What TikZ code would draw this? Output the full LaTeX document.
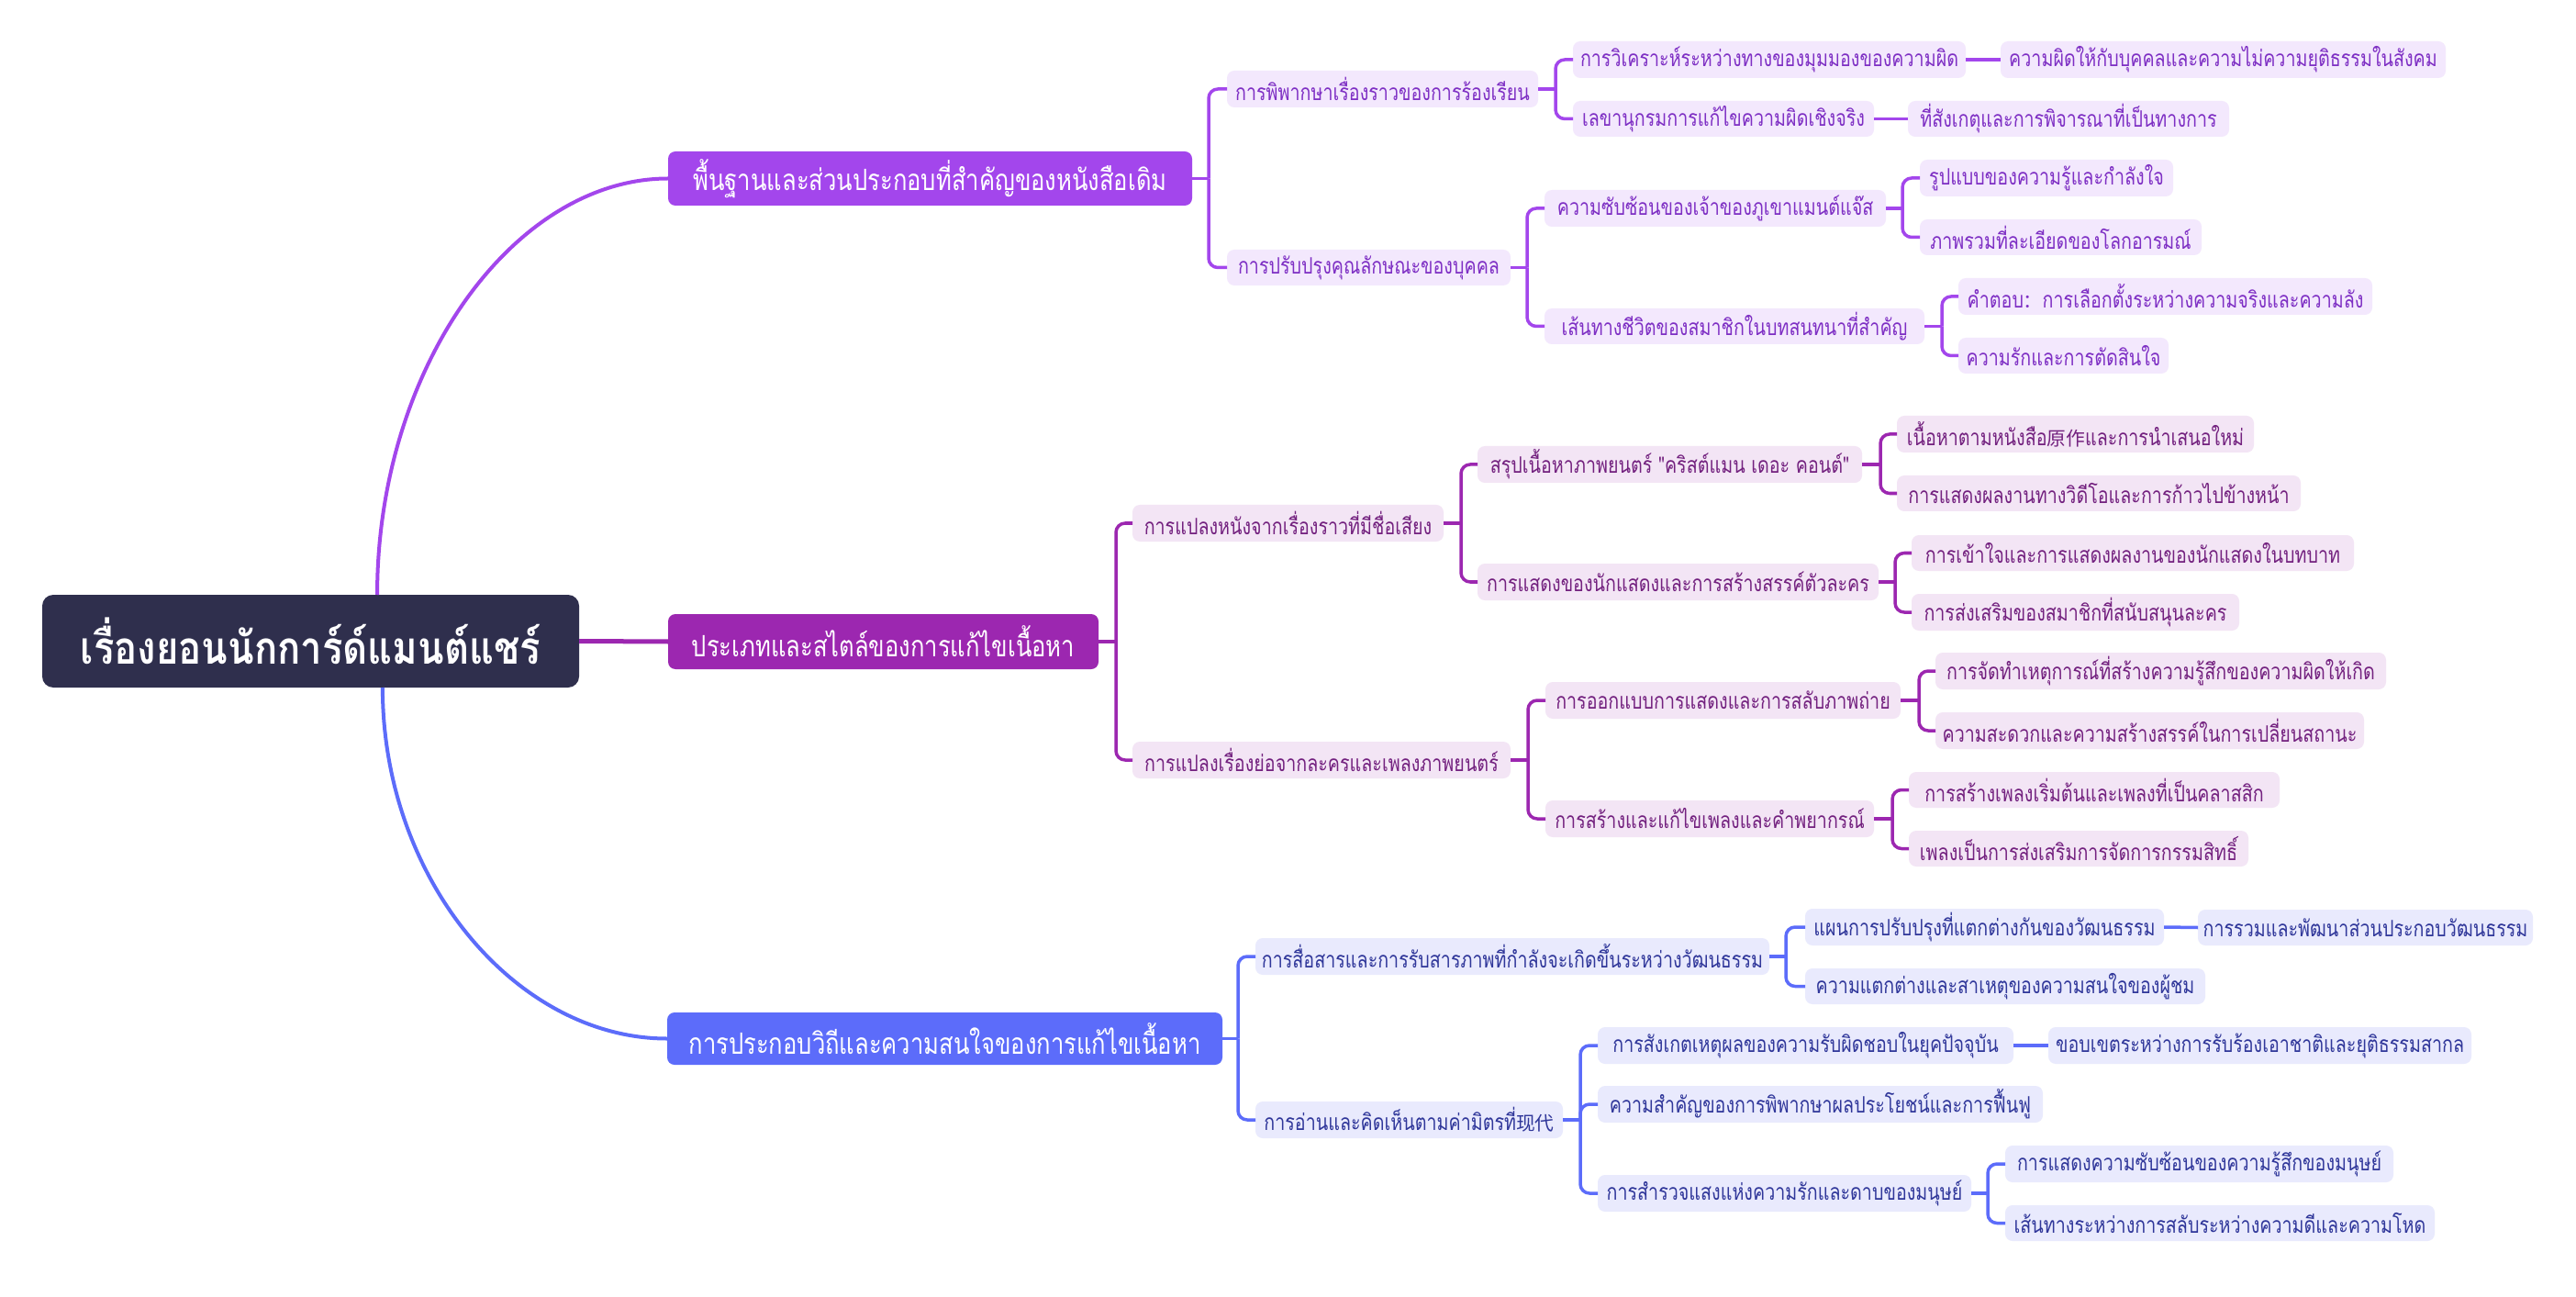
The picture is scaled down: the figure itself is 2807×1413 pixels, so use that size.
\documentclass[tikz,border=0pt]{standalone}
\usepackage{fontspec}
\newfontfamily\thaifont[Script=Thai, FakeStretch=0.8]{Loma}
\newfontfamily\thairoot[Script=Thai, FakeStretch=0.85]{Loma}
\newfontfamily\cjkfam{Noto Sans CJK SC}
\newcommand\cjk{\cjkfam\fontsize{5.9}{7}\selectfont}
\usetikzlibrary{calc}
\definecolor{rootc}{HTML}{2F2F4D}
\definecolor{pa}{HTML}{A346EC}
\definecolor{pafill}{HTML}{F3E8FD}
\definecolor{patxt}{HTML}{7E2FC4}
\definecolor{pb}{HTML}{9C27B0}
\definecolor{pbfill}{HTML}{F3E5F5}
\definecolor{pbtxt}{HTML}{73217F}
\definecolor{pc}{HTML}{5C6CFA}
\definecolor{pcfill}{HTML}{E9EAFD}
\definecolor{pctxt}{HTML}{30379A}
\tikzset{
  base/.style={inner sep=0pt, outer sep=0pt, align=center},
  rootbox/.style={base, fill=rootc, rounded corners=0.12cm, text=white, font=\thairoot\bfseries\fontsize{14}{16}\selectfont},
  mainbox/.style={base, rounded corners=0.08cm, text=white, font=\thaifont\fontsize{9.1}{11}\selectfont},
  subbox/.style={base, rounded corners=0.08cm, font=\thaifont\fontsize{7}{8}\selectfont},
  abox/.style={subbox, fill=pafill, text=patxt},
  bbox/.style={subbox, fill=pbfill, text=pbtxt},
  cbox/.style={subbox, fill=pcfill, text=pctxt},
  conn/.style={line width=0.035cm},
  rootconn/.style={line width=0.04cm},
}
\newcommand\nd[7]{\node[#2, anchor=west, minimum width={(#5-#3)*0.01cm}, minimum height={(#6-#4)*0.01cm}] (#1) at ({#3},{(#4+#6)/2}) {#7};}
\newcommand\fork[3]{%
  \coordinate (#1x) at ({#2},0);
  \coordinate (#1b) at (#1x |- #1.east);
  \draw[conn] (#1.east) -- (#1b);
  \foreach \c in {#3} {\draw[conn, rounded corners=0.1cm] (#1b) |- (\c.west);}
}
\begin{document}
\begin{tikzpicture}[x=0.01cm, y=-0.01cm]
\fill[white] (0,0) rectangle (2807,1413);
\useasboundingbox (0,0) rectangle (2807,1413);

% root and main branches
\nd{root}{rootbox}{46}{648}{631}{749}{เรื่องยอนนักการ์ด์แมนต์แชร์}
\nd{B1}{mainbox, fill=pa}{728}{165}{1299}{224}{พื้นฐานและส่วนประกอบที่สำคัญของหนังสือเดิม}
\nd{B2}{mainbox, fill=pb}{728}{669}{1197}{729}{ประเภทและสไตล์ของการแก้ไขเนื้อหา}
\nd{B3}{mainbox, fill=pc}{727}{1103}{1332}{1160}{การประกอบวิถีและความสนใจของการแก้ไขเนื้อหา}

\coordinate (rt) at ($(root.north west)!0.624!(root.north east)$);
\coordinate (rb) at ($(root.south west)!0.634!(root.south east)$);
\draw[rootconn, pa] (rt) .. controls ($(rt)+(0,-248)$) and ($(B1.west)+(-168,0)$) .. (B1.west);
\draw[rootconn, pc] (rb) .. controls ($(rb)+(0,210)$) and ($(B3.west)+(-164,0)$) .. (B3.west);
\draw[rootconn, pb, line width=0.05cm] (root.east) -- (B2.west);

% branch 1
\nd{a1}{abox}{1337}{77}{1676}{117}{การพิพากษาเรื่องราวของการร้องเรียน}
\nd{a2}{abox}{1337}{272}{1646}{311}{การปรับปรุงคุณลักษณะของบุคคล}
\nd{a11}{abox}{1714}{45}{2142}{85}{การวิเคราะห์ระหว่างทางของมุมมองของความผิด}
\nd{a12}{abox}{1714}{110}{2042}{149}{เลขานุกรมการแก้ไขความผิดเชิงจริง}
\nd{a111}{abox}{2180}{45}{2665}{85}{ความผิดให้กับบุคคลและความไม่ความยุติธรรมในสังคม}
\nd{a121}{abox}{2079}{110}{2429}{149}{ที่สังเกตุและการพิจารณาที่เป็นทางการ}
\nd{a21}{abox}{1683}{207}{2055}{247}{ความซับซ้อนของเจ้าของภูเขาแมนต์แจ๊ส}
\nd{a22}{abox}{1683}{336}{2097}{375}{เส้นทางชีวิตของสมาชิกในบทสนทนาที่สำคัญ}
\nd{a211}{abox}{2092}{174}{2368}{214}{รูปแบบของความรู้และกำลังใจ}
\nd{a212}{abox}{2092}{239}{2399}{278}{ภาพรวมที่ละเอียดของโลกอารมณ์}
\nd{a221}{abox}{2134}{303}{2585}{343}{คำตอบ{\cjk ：}การเลือกตั้งระหว่างความจริงและความลัง}
\nd{a222}{abox}{2134}{368}{2363}{407}{ความรักและการตัดสินใจ}
\begin{scope}[pa]
\fork{B1}{1317}{a1,a2}
\fork{a1}{1695}{a11,a12}
\fork{a2}{1664}{a21,a22}
\fork{a21}{2073}{a211,a212}
\fork{a22}{2116}{a221,a222}
\draw[conn] (a11.east) -- (a111.west);
\draw[conn] (a12.east) -- (a121.west);
\end{scope}

% branch 2
\nd{b1}{bbox}{1234}{550}{1573}{590}{การแปลงหนังจากเรื่องราวที่มีชื่อเสียง}
\nd{b2}{bbox}{1234}{808}{1646}{848}{การแปลงเรื่องย่อจากละครและเพลงภาพยนตร์}
\nd{b11}{bbox}{1610}{486}{2029}{526}{สรุปเนื้อหาภาพยนตร์ "คริสต์แมน เดอะ คอนต์"}
\nd{b12}{bbox}{1610}{614}{2047}{654}{การแสดงของนักแสดงและการสร้างสรรค์ตัวละคร}
\nd{b111}{bbox}{2067}{453}{2456}{493}{เนื้อหาตามหนังสือ{\cjk 原作}และการนำเสนอใหม่}
\nd{b112}{bbox}{2067}{518}{2507}{557}{การแสดงผลงานทางวิดีโอและการก้าวไปข้างหน้า}
\nd{b121}{bbox}{2083}{583}{2565}{622}{การเข้าใจและการแสดงผลงานของนักแสดงในบทบาท}
\nd{b122}{bbox}{2083}{647}{2440}{687}{การส่งเสริมของสมาชิกที่สนับสนุนละคร}
\nd{b21}{bbox}{1684}{743}{2071}{783}{การออกแบบการแสดงและการสลับภาพถ่าย}
\nd{b22}{bbox}{1684}{872}{2042}{912}{การสร้างและแก้ไขเพลงและคำพยากรณ์}
\nd{b211}{bbox}{2109}{711}{2600}{751}{การจัดทำเหตุการณ์ที่สร้างความรู้สึกของความผิดให้เกิด}
\nd{b212}{bbox}{2109}{776}{2576}{816}{ความสะดวกและความสร้างสรรค์ในการเปลี่ยนสถานะ}
\nd{b221}{bbox}{2080}{841}{2484}{880}{การสร้างเพลงเริ่มต้นและเพลงที่เป็นคลาสสิก}
\nd{b222}{bbox}{2080}{905}{2450}{944}{เพลงเป็นการส่งเสริมการจัดการกรรมสิทธิ์}
\begin{scope}[pb]
\fork{B2}{1216}{b1,b2}
\fork{b1}{1592}{b11,b12}
\fork{b11}{2049}{b111,b112}
\fork{b12}{2065}{b121,b122}
\fork{b2}{1665}{b21,b22}
\fork{b21}{2091}{b211,b212}
\fork{b22}{2062}{b221,b222}
\end{scope}

% branch 3
\nd{c1}{cbox}{1368}{1022}{1928}{1062}{การสื่อสารและการรับสารภาพที่กำลังจะเกิดขึ้นระหว่างวัฒนธรรม}
\nd{c2}{cbox}{1368}{1200}{1703}{1240}{การอ่านและคิดเห็นตามค่ามิตรที่{\cjk 现代}}
\nd{c11}{cbox}{1967}{990}{2358}{1030}{แผนการปรับปรุงที่แตกต่างกันของวัฒนธรรม}
\nd{c12}{cbox}{1967}{1055}{2403}{1094}{ความแตกต่างและสาเหตุของความสนใจของผู้ชม}
\nd{c111}{cbox}{2395}{991}{2760}{1030}{การรวมและพัฒนาส่วนประกอบวัฒนธรรม}
\nd{c21}{cbox}{1741}{1119}{2194}{1159}{การสังเกตเหตุผลของความรับผิดชอบในยุคปัจจุบัน}
\nd{c22}{cbox}{1741}{1183}{2226}{1223}{ความสำคัญของการพิพากษาผลประโยชน์และการฟื้นฟู}
\nd{c23}{cbox}{1741}{1280}{2148}{1320}{การสำรวจแสงแห่งความรักและดาบของมนุษย์}
\nd{c211}{cbox}{2232}{1119}{2693}{1159}{ขอบเขตระหว่างการรับร้องเอาชาติและยุติธรรมสากล}
\nd{c231}{cbox}{2185}{1248}{2608}{1288}{การแสดงความซับซ้อนของความรู้สึกของมนุษย์}
\nd{c232}{cbox}{2185}{1313}{2653}{1352}{เส้นทางระหว่างการสลับระหว่างความดีและความโหด}
\begin{scope}[pc]
\fork{B3}{1349}{c1,c2}
\fork{c1}{1946}{c11,c12}
\fork{c2}{1722}{c21,c22,c23}
\fork{c23}{2166}{c231,c232}
\draw[conn] (c11.east) -- (c111.west);
\draw[conn] (c21.east) -- (c211.west);
\end{scope}
\end{tikzpicture}
\end{document}
